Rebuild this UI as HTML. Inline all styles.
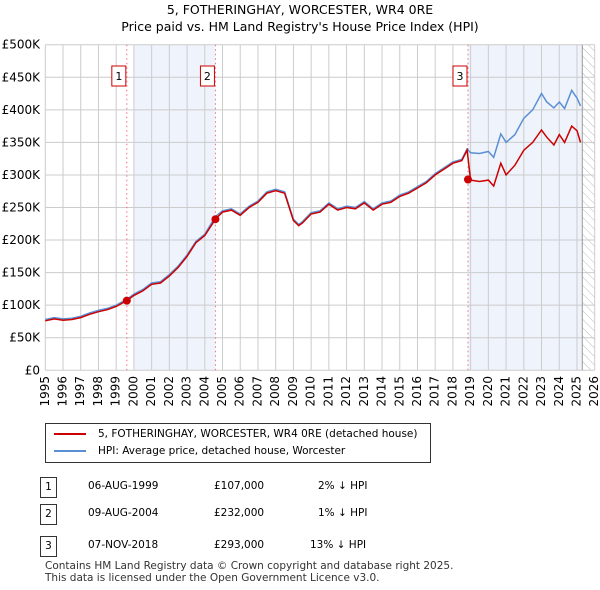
<!DOCTYPE html>
<html><head><meta charset="utf-8"><style>
body{margin:0;background:#fff;font-family:"DejaVu Sans","Liberation Sans",sans-serif;}
#wrap{position:relative;width:600px;height:590px;overflow:hidden;}
.t{position:absolute;font-size:12px;color:#000;white-space:nowrap;}
svg text{font-family:"DejaVu Sans","Liberation Sans",sans-serif;}
</style></head><body>
<div id="wrap">
<div class="t" style="left:0;width:600px;text-align:center;top:2px;font-size:12.5px;">5, FOTHERINGHAY, WORCESTER, WR4 0RE</div>
<div class="t" style="left:0;width:600px;text-align:center;top:19px;font-size:12.5px;">Price paid vs. HM Land Registry's House Price Index (HPI)</div>
<svg id="chart" width="600" height="420" style="position:absolute;left:0;top:0"></svg>
<div style="position:absolute;left:45px;top:423px;width:384px;height:38px;border:1px solid #333;">
 <div style="position:absolute;left:8px;top:4px;font-size:10.5px;white-space:nowrap"><span style="display:inline-block;width:32px;height:2px;background:#cc0000;vertical-align:middle;margin-right:12px"></span>5, FOTHERINGHAY, WORCESTER, WR4 0RE (detached house)</div>
 <div style="position:absolute;left:8px;top:21px;font-size:10.5px;white-space:nowrap"><span style="display:inline-block;width:32px;height:2px;background:#5b8fd4;vertical-align:middle;margin-right:12px"></span>HPI: Average price, detached house, Worcester</div>
</div>
<div id="rows"></div>
<div class="t" style="left:45px;top:560px;font-size:10.5px;line-height:12px;color:#333">Contains HM Land Registry data © Crown copyright and database right 2025.<br>This data is licensed under the Open Government Licence v3.0.</div>
</div>
<script>
const years=[1995,1995.5,1996,1996.5,1997,1997.5,1998,1998.5,1999,1999.6,2000,2000.5,2001,2001.5,2002,2002.5,2003,2003.5,2004,2004.6,2005,2005.5,2006,2006.5,2007,2007.5,2008,2008.5,2009,2009.3,2009.5,2010,2010.5,2011,2011.5,2012,2012.5,2013,2013.5,2014,2014.5,2015,2015.5,2016,2016.5,2017,2017.5,2018,2018.5,2018.8,2019,2019.5,2020,2020.3,2020.7,2021,2021.5,2022,2022.5,2023,2023.3,2023.7,2024,2024.3,2024.7,2025,2025.2];
const hpi=[78,81,79,80,83,88,92,95,100,109,117,124,134,136,147,160,177,198,209,236,245,248,240,252,260,274,278,274,232,224,228,242,245,257,248,252,250,259,248,257,260,269,274,282,290,302,311,320,324,340,334,333,336,327,363,350,362,387,400,425,412,403,412,402,430,418,406];
const price=[76,79,77,78,81,86,90,93,98,107,115,122,132,134,145,158,175,196,207,232,243,246,238,250,258,272,276,272,230,222,226,240,243,255,246,250,248,257,246,255,258,267,272,280,288,300,309,318,322,338,292,290,292,283,318,300,315,338,350,369,358,346,362,350,375,368,350];
const sales=[{n:"1",d:"06-AUG-1999",y:1999.6,v:107,p:"£107,000",h:"2% ↓ HPI"},{n:"2",d:"09-AUG-2004",y:2004.6,v:232,p:"£232,000",h:"1% ↓ HPI"},{n:"3",d:"07-NOV-2018",y:2018.85,v:293,p:"£293,000",h:"13% ↓ HPI"}];
const yTicks=[0,50,100,150,200,250,300,350,400,450,500];
const X=y=>45.3+(y-1995)*(549.4/31), Y=v=>370.3-v*0.6512;
const svg=document.getElementById('chart'),NS="http://www.w3.org/2000/svg";
function el(t,a,p){const e=document.createElementNS(NS,t);for(const k in a)e.setAttribute(k,a[k]);(p||svg).appendChild(e);return e;}
const defs=el('defs',{});const pat=el('pattern',{id:'hatch',width:6,height:6,patternUnits:'userSpaceOnUse',patternTransform:'rotate(-45)'},defs);el('line',{x1:0,y1:0,x2:0,y2:6,stroke:'#bbb','stroke-width':1},pat);
let r=el('rect',{x:X(2000),y:Y(500),width:X(2004.6)-X(2000),height:Y(0)-Y(500),fill:'#eef3fc'});
r=el('rect',{x:X(2018.85),y:Y(500),width:X(2025.3)-X(2018.85),height:Y(0)-Y(500),fill:'#eef3fc'});
r=el('rect',{x:X(2025.3),y:Y(500),width:X(2026)-X(2025.3),height:Y(0)-Y(500),fill:'url(#hatch)'});
for(let yr=1995;yr<=2026;yr++){const l=el('line',{x1:X(yr),x2:X(yr),y1:Y(500),y2:Y(0),stroke:'#ccc'});
 const t=el('text',{x:X(yr),y:376,'font-size':12,transform:`rotate(-90 ${X(yr)} 376)`,'text-anchor':'end','dominant-baseline':'middle'});t.textContent=yr;}
yTicks.forEach(v=>{const l=el('line',{x1:X(1995),x2:X(2026),y1:Y(v),y2:Y(v),stroke:'#ccc'});
 const t=el('text',{x:40,y:Y(v)+4,'font-size':12,'text-anchor':'end'});t.textContent=v?'£'+v+'K':'£0';});
r=el('line',{x1:X(2025.3),x2:X(2025.3),y1:Y(500),y2:Y(0),stroke:'#999'});
sales.forEach(s=>{const l=el('line',{x1:X(s.y),x2:X(s.y),y1:Y(500),y2:Y(0),stroke:'#f07080','stroke-dasharray':'1.5,3'});});
const path=a=>years.map((y,i)=>(i?'L':'M')+X(y).toFixed(1)+','+Y(a[i]).toFixed(1)).join('');
let p=el('path',{d:path(hpi),fill:'none',stroke:'#5b8fd4','stroke-width':1.5});
p=el('path',{d:path(price),fill:'none',stroke:'#cc0000','stroke-width':1.5});
sales.forEach(s=>{const c=el('circle',{cx:X(s.y),cy:Y(s.v),r:4,fill:'#cc0000'});
 const b=el('rect',{x:X(s.y)-15,y:66,width:14,height:20,fill:'#fff',stroke:'#cc0000'});
 const t=el('text',{x:X(s.y)-8,y:80,'font-size':11,'text-anchor':'middle'});t.textContent=s.n;});
const rows=document.getElementById('rows');const tops=[477,504,536];
sales.forEach((s,i)=>{const d=document.createElement('div');
 d.style.cssText=`position:absolute;left:0;top:${tops[i]}px;width:600px;height:20px;font-size:10.5px;white-space:nowrap;`;
 d.innerHTML=`<span style="position:absolute;left:40px;top:0;width:15px;height:19px;border:1px solid #333;text-align:center;line-height:19px">${s.n}</span><span style="position:absolute;left:88px;top:3px">${s.d}</span><span style="position:absolute;left:214px;top:3px">${s.p}</span><span style="position:absolute;left:${s.n=='3'?310:318}px;top:3px">${s.h}</span>`;rows.appendChild(d);});
</script></body></html>
